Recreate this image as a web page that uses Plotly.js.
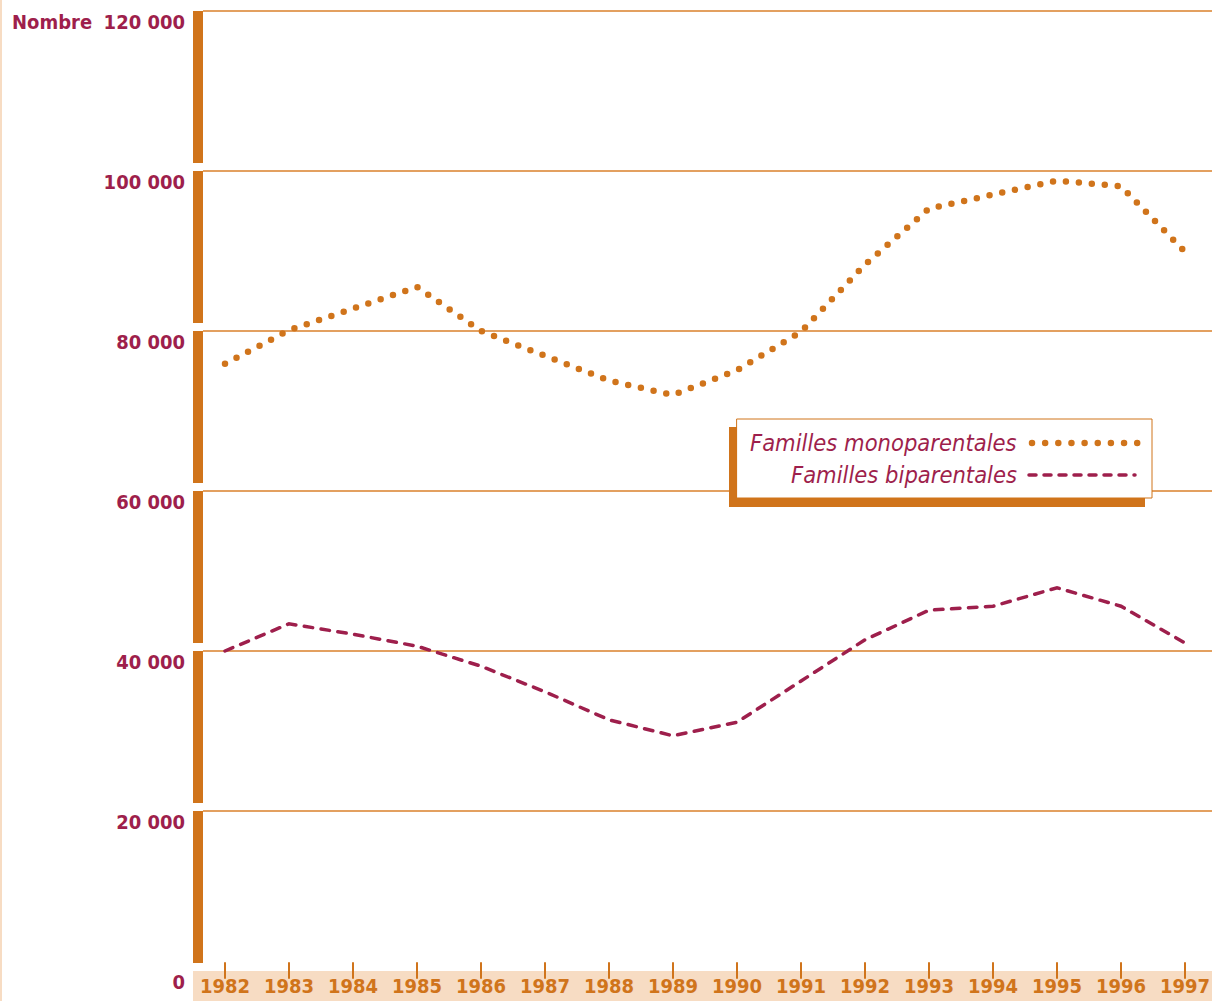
<!DOCTYPE html>
<html>
<head>
<meta charset="utf-8">
<script src="https://cdn.plot.ly/plotly-3.0.1.min.js"></script>
<style>
html,body{margin:0;padding:0;background:#fff;}
#chart{width:1212px;height:1001px;}
.scatterlayer .js-line{stroke-linecap:round;}
.shapelayer path{stroke-linecap:round;}
</style>
</head>
<body>
<div id="chart"></div>
<script>
// ---- data ----
var years = [1982,1983,1984,1985,1986,1987,1988,1989,1990,1991,1992,1993,1994,1995,1996,1997];
var yearLabels = years.map(String);
var monoparentales = [75900,80100,82800,85500,80000,76800,73800,72000,75100,79900,88300,95300,97100,98800,98100,89900];
var biparentales = [40000,43400,42100,40600,38100,34900,31400,29400,31100,36300,41400,45100,45600,47900,45600,41000];
var yTickVals = [0,20000,40000,60000,80000,100000,120000];
var yTickText = ["0","20 000","40 000","60 000","80 000","100 000","120 000"];
var seriesNames = ["Familles monoparentales","Familles biparentales"];

var ORANGE = "#D0741B";
var GRID = "#E3A060";
var CRIMSON = "#9E1F4C";
var PEACH = "#F7DCC3";
var FONT = "Liberation Sans Narrow, DejaVu Sans Condensed, Arial Narrow, sans-serif";

// pixel helpers for decorations (plot area: x 203..1212, y 6..971)
function px2x(px){ return years[0] + (px-225)/64; }
function py2y(py){ return (971-py)*125; }

var DOTS = "0px,13px";
var DASHES = "8.5px,8.5px";

var traces = [
  {x: years, y: monoparentales, name: seriesNames[0], type: "scatter", mode: "lines",
   line: {color: ORANGE, width: 6.5, dash: DOTS}, hoverinfo: "x+y"},
  {x: years, y: biparentales, name: seriesNames[1], type: "scatter", mode: "lines",
   line: {color: CRIMSON, width: 3.5, dash: DASHES}, hoverinfo: "x+y"}
];

var shapes = [];
// thin peach strip on the far left edge
shapes.push({type:"rect", xref:"paper", yref:"paper", xsizemode:"pixel", xanchor:0,
  x0:-203, x1:-201, y0:-0.04, y1:1.02, fillcolor:PEACH, line:{width:0}, layer:"below"});
// bottom peach band
shapes.push({type:"rect", xref:"paper", yref:"paper", xsizemode:"pixel", xanchor:0,
  ysizemode:"pixel", yanchor:0, x0:-10, x1:1009, y0:-31, y1:0,
  fillcolor:PEACH, line:{width:0}, layer:"below"});
// left orange bar segments
for (var i = 1; i < yTickVals.length; i++) {
  var v = yTickVals[i];
  shapes.push({type:"rect", xref:"paper", yref:"y", xsizemode:"pixel", xanchor:0,
    x0:-10, x1:0, y0:v-19000, y1:v, fillcolor:ORANGE, line:{width:0}, layer:"above"});
}
// x tick marks crossing the axis
years.forEach(function(yr){
  shapes.push({type:"line", xref:"x", yref:"paper", ysizemode:"pixel", yanchor:0,
    x0:yr, x1:yr, y0:-7, y1:8, line:{color:ORANGE, width:2}, layer:"above"});
});
// legend shadow + box
shapes.push({type:"rect", xref:"x", yref:"y", x0:px2x(729), x1:px2x(1145), y0:py2y(507), y1:py2y(427),
  fillcolor:ORANGE, line:{width:0}, layer:"above"});
shapes.push({type:"rect", xref:"x", yref:"y", x0:px2x(737), x1:px2x(1152), y0:py2y(498), y1:py2y(419),
  fillcolor:"#ffffff", line:{color:ORANGE, width:1}, layer:"above"});
// legend samples
shapes.push({type:"line", xref:"x", yref:"y", x0:px2x(1032), x1:px2x(1137.5), y0:py2y(443), y1:py2y(443),
  line:{color:ORANGE, width:6.5, dash:"0px,13.15px"}, layer:"above"});
shapes.push({type:"line", xref:"x", yref:"y", x0:px2x(1029), x1:px2x(1135), y0:py2y(475), y1:py2y(475),
  line:{color:CRIMSON, width:3.5, dash:"7px,8px"}, layer:"above"});

var annotations = [
  {text:"<b>Nombre</b>", xref:"paper", yref:"paper", x:(10-203)/1009, y:py2y(22)/120625, xanchor:"left", yanchor:"middle",
   showarrow:false, font:{family:FONT, size:20, color:CRIMSON}},
  {text:"<i>"+seriesNames[0]+"</i>", xref:"x", yref:"y", x:px2x(1019), y:py2y(443), xanchor:"right", yanchor:"middle",
   showarrow:false, font:{family:FONT, size:23.5, color:CRIMSON}},
  {text:"<i>"+seriesNames[1]+"</i>", xref:"x", yref:"y", x:px2x(1019), y:py2y(475), xanchor:"right", yanchor:"middle",
   showarrow:false, font:{family:FONT, size:23.5, color:CRIMSON}}
];

var layout = {
  width:1212, height:1001,
  margin:{l:203, r:0, t:6, b:30, pad:0},
  paper_bgcolor:"#ffffff", plot_bgcolor:"#ffffff",
  showlegend:false,
  xaxis:{range:[px2x(203), px2x(1212)], tickvals:years, ticktext:yearLabels, ticks:"",
    showgrid:false, zeroline:false, showline:false, fixedrange:true,
    tickfont:{family:FONT, size:20, color:ORANGE, weight:"bold"}, ticklabelstandoff:1},
  yaxis:{range:[0,120625], tickvals:yTickVals, ticktext:yTickText, ticks:"",
    showgrid:true, gridcolor:GRID, gridwidth:2, zeroline:false, showline:false, fixedrange:true,
    tickfont:{family:FONT, size:20, color:CRIMSON, weight:"bold"}, ticklabelstandoff:17, ticklabelshift:11},
  shapes:shapes,
  annotations:annotations
};

Plotly.newPlot("chart", traces, layout, {displayModeBar:false, staticPlot:true});
</script>
</body>
</html>
